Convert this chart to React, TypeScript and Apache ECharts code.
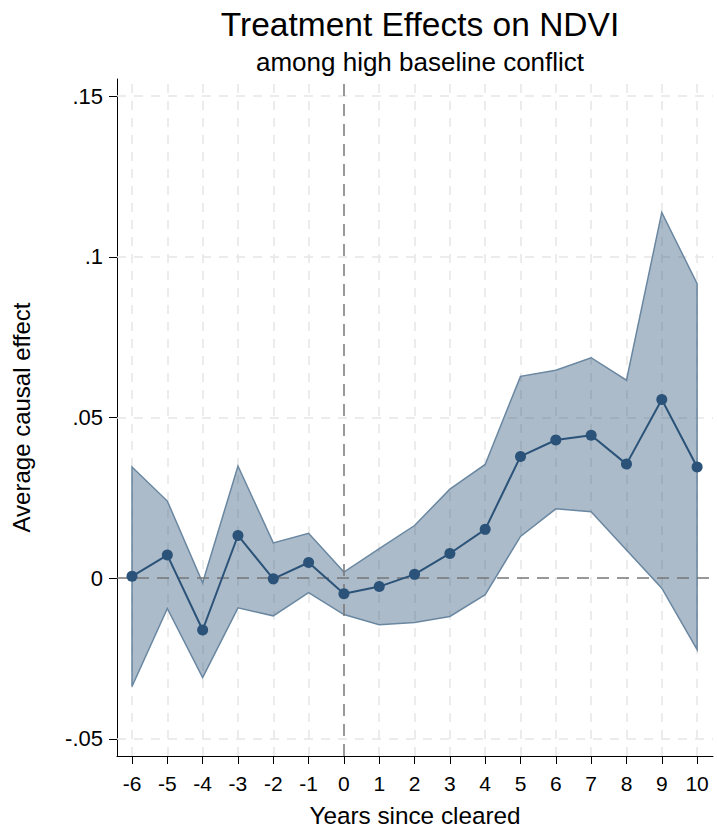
import React, { useEffect, useRef } from "react";
import * as echarts from "echarts";

const years = [-6, -5, -4, -3, -2, -1, 0, 1, 2, 3, 4, 5, 6, 7, 8, 9, 10];
const estimate = [0.0006, 0.0072, -0.0161, 0.0133, -0.0002, 0.0049, -0.0048, -0.0026, 0.0012, 0.0077, 0.0152, 0.0379, 0.043, 0.0445, 0.0355, 0.0556, 0.0346];
const upper = [0.0346, 0.024, -0.0014, 0.0349, 0.011, 0.014, 0.0019, 0.0092, 0.0164, 0.0277, 0.0354, 0.0628, 0.0647, 0.0686, 0.0616, 0.1138, 0.0916];
const lower = [-0.0337, -0.0094, -0.0309, -0.0092, -0.0117, -0.0045, -0.0113, -0.0145, -0.0138, -0.0119, -0.0051, 0.013, 0.0216, 0.0207, 0.0088, -0.0031, -0.0222];
const yTicks = [-0.05, 0, 0.05, 0.1, 0.15];
const yTickLabels = ["-.05", "0", ".05", ".1", ".15"];

const FONT = "'Liberation Sans', Arial, sans-serif";

export default function App() {
  const ref = useRef<HTMLDivElement>(null);
  useEffect(() => {
    if (!ref.current) return;
    const chart = echarts.init(ref.current, null, { renderer: "svg" });
    const gridLineStyle = { color: "#e6e6e6", width: 1.5, type: [9, 8] as any };
    const option: any = {
      animation: false,
      backgroundColor: "#ffffff",
      textStyle: { fontFamily: FONT },
      title: [
        {
          text: "Treatment Effects on NDVI",
          left: 415,
          top: 2,
          textAlign: "center",
          textStyle: { fontFamily: FONT, fontSize: 33.5, fontWeight: "normal", color: "#000" },
        },
        {
          text: "among high baseline conflict",
          left: 415,
          top: 44,
          textAlign: "center",
          textStyle: { fontFamily: FONT, fontSize: 26, fontWeight: "normal", color: "#000" },
        },
      ],
      grid: { left: 117, right: 4, top: 79, bottom: 74 },
      xAxis: {
        type: "value",
        min: -6.425,
        max: 10.45,
        name: "Years since cleared",
        nameLocation: "middle",
        nameGap: 47,
        nameTextStyle: { fontFamily: FONT, fontSize: 24.3, color: "#000" },
        axisLine: { show: true, onZero: false, lineStyle: { color: "#000", width: 1 } },
        axisTick: { show: true, length: 8, inside: false, customValues: years, lineStyle: { color: "#000" } },
        axisLabel: {
          customValues: years,
          fontFamily: FONT,
          fontSize: 21,
          color: "#000",
          margin: 17,
          formatter: (v: number) => String(v),
        },
        splitLine: { show: false },
      },
      yAxis: {
        type: "value",
        min: -0.0553,
        max: 0.1553,
        name: "Average causal effect",
        nameLocation: "middle",
        nameGap: 84,
        nameTextStyle: { fontFamily: FONT, fontSize: 24, color: "#000" },
        axisLine: { show: true, onZero: false, lineStyle: { color: "#000", width: 1 } },
        axisTick: { show: true, length: 8, inside: false, customValues: yTicks, lineStyle: { color: "#000" } },
        axisLabel: {
          customValues: yTicks,
          fontFamily: FONT,
          fontSize: 22,
          color: "#000",
          margin: 14,
          formatter: (v: number) => {
            const i = yTicks.findIndex((t) => Math.abs(t - v) < 1e-9);
            return i >= 0 ? yTickLabels[i] : "";
          },
        },
        splitLine: { show: false },
      },
      series: [
        {
          type: "line",
          data: [],
          z: 1,
          silent: true,
          markLine: {
            z: 1,
            silent: true,
            symbol: "none",
            label: { show: false },
            lineStyle: gridLineStyle,
            data: [
              ...years.filter((y) => y !== 0).map((y) => ({ xAxis: y })),
              ...yTicks.filter((t) => t !== 0).map((t) => ({ yAxis: t })),
            ],
          },
        },
        {
          type: "custom",
          z: 2,
          silent: true,
          data: years.map((y, i) => [y, lower[i], upper[i]]),
          encode: { x: 0, y: [1, 2] },
          renderItem: (params: any, api: any) => {
            if (params.dataIndex !== 0) return null;
            const pts: number[][] = [];
            for (let i = 0; i < years.length; i++) pts.push(api.coord([years[i], upper[i]]));
            for (let i = years.length - 1; i >= 0; i--) pts.push(api.coord([years[i], lower[i]]));
            return {
              type: "polygon",
              shape: { points: pts },
              style: { fill: "rgba(44,84,121,0.4)", stroke: "#6a87a1", lineWidth: 1.5 },
            };
          },
        },
        {
          type: "line",
          data: [],
          z: 3,
          silent: true,
          markLine: {
            z: 3,
            silent: true,
            symbol: "none",
            label: { show: false },
            lineStyle: { color: "#777777", width: 1.5, type: [12, 8] as any },
            data: [{ xAxis: 0 }, { yAxis: 0 }],
          },
        },
        {
          type: "line",
          z: 4,
          data: years.map((y, i) => [y, estimate[i]]),
          symbol: "circle",
          symbolSize: 11,
          showSymbol: true,
          lineStyle: { color: "#2b5278", width: 2 },
          itemStyle: { color: "#2b5278", borderWidth: 0, borderColor: "#2b5278" },
        },
      ],
    };
    chart.setOption(option);
    return () => chart.dispose();
  }, []);
  return (
    <div
      ref={ref}
      style={{ position: "absolute", left: 0, top: 0, width: 717, height: 832, background: "#fff" }}
    />
  );
}
